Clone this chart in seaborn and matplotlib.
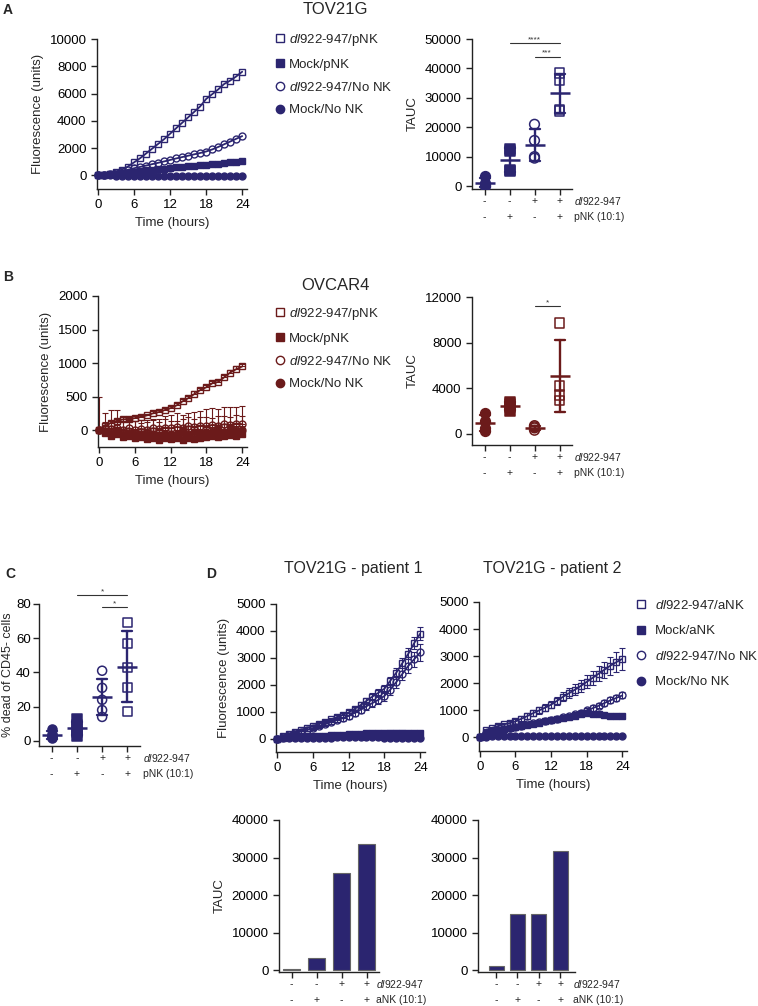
import matplotlib
matplotlib.use('Agg')
import matplotlib.pyplot as plt
import matplotlib.transforms as mtransforms
from matplotlib.lines import Line2D
import pandas as pd
import seaborn as sns

sns.set_style('ticks')
plt.rcParams['font.family'] = ['Liberation Sans', 'DejaVu Sans']
plt.rcParams['mathtext.fontset'] = 'custom'
plt.rcParams['mathtext.it'] = 'Liberation Sans:italic'
plt.rcParams['mathtext.rm'] = 'Liberation Sans'
plt.rcParams['axes.linewidth'] = 1.0
plt.rcParams['axes.edgecolor'] = '#222222'

NAVY = '#2b2570'
DRED = '#6b1a1a'
W, H = 758, 1006

hours = list(range(25))

# ---- panel A: TOV21G kinetics (dl/pNK, Mock/pNK, dl/No NK, Mock/No NK)
a_dl_pnk = [0, 40, 120, 250, 420, 650, 950, 1250, 1600, 1950, 2300, 2650, 3050,
            3450, 3850, 4250, 4650, 5050, 5600, 5950, 6300, 6700, 6950, 7250, 7600]
a_mock_pnk = [0, 30, 70, 110, 160, 210, 270, 320, 370, 410, 450, 500, 540,
              580, 620, 660, 700, 750, 790, 830, 870, 920, 960, 990, 1020]
a_dl_nonk = [0, 40, 110, 200, 300, 410, 520, 620, 720, 820, 920, 1020, 1130,
             1240, 1340, 1440, 1540, 1640, 1750, 1900, 2080, 2280, 2480, 2680, 2880]
a_mock_nonk = [0, 0, 0, -10, -10, -20, -20, -30, -30, -40, -40, -50, -50,
               -50, -60, -60, -60, -70, -70, -70, -80, -80, -80, -80, -80]

# ---- panel A: TAUC (Mock/No NK, Mock/pNK, dl/No NK, dl/pNK)
a_tauc_mock_nonk = [3300, 900, 300, 100]
a_tauc_mock_pnk = [12500, 12000, 5500, 5000]
a_tauc_dl_nonk = [21000, 15500, 10000, 9500]
a_tauc_dl_pnk = [38500, 36000, 26000, 25500]
a_sig = [(1, 3, 48500, '****'), (2, 3, 44000, '***')]

# ---- panel B: OVCAR4 kinetics
b_dl_pnk = [0, 60, 110, 140, 160, 170, 180, 200, 220, 250, 270, 300, 330,
            370, 430, 480, 540, 600, 640, 700, 720, 790, 860, 910, 950]
b_mock_pnk = [0, -40, -80, -60, -100, -90, -120, -100, -130, -110, -140, -120, -130,
              -110, -140, -120, -130, -110, -100, -90, -100, -80, -70, -80, -60]
b_dl_nonk = [0, 30, 20, 40, 10, 30, 0, 20, 10, 30, 20, 40, 30,
             50, 40, 60, 50, 70, 60, 80, 70, 90, 80, 100, 90]
b_mock_nonk = [0, -20, -40, -30, -50, -40, -60, -50, -60, -50, -70, -60, -50,
               -60, -40, -50, -30, -40, -20, -30, -10, -20, 0, -10, 0]
b_err_dl_pnk = [0, 20, 25, 30, 30, 25, 30, 30, 25, 30, 30, 35, 30,
                35, 30, 35, 40, 35, 40, 40, 35, 40, 40, 45, 40]
b_err_mock_pnk = [490, 300, 380, 360, 260, 240, 250, 250, 280, 270, 300, 330, 350,
                  360, 370, 380, 400, 400, 410, 420, 410, 420, 420, 430, 420]
b_err_dl_nonk = [0, 90, 110, 80, 120, 100, 130, 90, 110, 120, 100, 130, 110,
                 90, 120, 140, 110, 120, 130, 100, 140, 120, 110, 130, 120]
b_err_mock_nonk = [0, 60, 70, 80, 60, 70, 80, 70, 60, 80, 70, 60, 80,
                   70, 60, 70, 80, 60, 70, 80, 60, 70, 60, 70, 60]

# ---- panel B: TAUC
b_tauc_mock_nonk = [1800, 1100, 500, 200]
b_tauc_mock_pnk = [2800, 2600, 2300, 2000]
b_tauc_dl_nonk = [700, 600, 500, 300]
b_tauc_dl_pnk = [9700, 4200, 3400, 2900]
b_sig = [(2, 3, 11200, '*')]

# ---- panel C: % dead of CD45- cells
c_mock_nonk = [7, 4, 3, 2, 1.5]
c_mock_pnk = [13, 9, 7, 5, 3]
c_dl_nonk = [41, 31, 24, 18, 14]
c_dl_pnk = [69, 57, 43, 31, 17]
c_sig = [(1, 3, 85, '*'), (2, 3, 78, '*')]

# ---- panel D: patient 1 / patient 2 kinetics (dl/aNK, Mock/aNK, dl/No NK, Mock/No NK)
d1_dl_ank = [0, 80, 160, 250, 320, 390, 460, 540, 620, 710, 790, 880, 970,
             1100, 1240, 1400, 1560, 1700, 1850, 2150, 2450, 2800, 3150, 3550, 3900]
d1_mock_ank = [0, 20, 40, 60, 70, 80, 90, 100, 110, 120, 140, 150, 160,
               170, 180, 190, 200, 210, 210, 220, 220, 220, 210, 210, 200]
d1_dl_nonk = [0, 60, 130, 200, 260, 320, 390, 460, 530, 610, 690, 760, 840,
              950, 1070, 1200, 1320, 1440, 1580, 1820, 2100, 2400, 2700, 2950, 3200]
d1_mock_nonk = [0, 10, 10, 20, 20, 20, 30, 30, 30, 30, 40, 40, 40,
                40, 40, 40, 40, 40, 30, 30, 30, 30, 20, 20, 20]
d1_err_dl_ank = [0, 20, 30, 40, 40, 50, 50, 60, 60, 70, 70, 80, 80,
                 90, 100, 110, 120, 130, 140, 150, 160, 180, 200, 220, 250]
d1_err_dl_nonk = [0, 20, 30, 40, 50, 50, 60, 60, 70, 80, 90, 100, 110,
                  120, 130, 140, 150, 160, 180, 200, 220, 240, 260, 280, 300]
d1_err_mock_ank = [0, 30, 40, 50, 50, 60, 60, 60, 70, 70, 70, 70, 80,
                   80, 80, 80, 80, 80, 80, 80, 80, 80, 80, 80, 80]

d2_dl_ank = [0, 280, 350, 420, 480, 530, 590, 690, 790, 900, 1000, 1100, 1210,
             1350, 1500, 1630, 1760, 1900, 2050, 2200, 2350, 2500, 2650, 2780, 2900]
d2_mock_ank = [0, 170, 220, 270, 310, 350, 390, 430, 470, 510, 550, 590, 630,
               670, 710, 760, 810, 860, 900, 880, 850, 830, 810, 800, 800]
d2_dl_nonk = [0, 180, 230, 280, 320, 360, 400, 440, 480, 520, 560, 600, 640,
              690, 740, 790, 850, 920, 1000, 1080, 1170, 1270, 1370, 1460, 1550]
d2_mock_nonk = [0, 30, 40, 50, 50, 50, 60, 60, 60, 60, 60, 60, 60,
                60, 60, 60, 60, 60, 60, 60, 60, 60, 60, 60, 60]
d2_err_dl_ank = [0, 40, 50, 60, 60, 70, 80, 90, 100, 110, 120, 130, 140,
                 150, 160, 180, 200, 220, 240, 260, 280, 300, 330, 360, 400]
d2_err_dl_nonk = [0, 30, 40, 40, 50, 50, 50, 60, 60, 60, 70, 70, 70,
                  80, 80, 80, 90, 90, 90, 100, 100, 100, 110, 110, 110]
d2_err_mock_ank = [0, 30, 30, 40, 40, 40, 40, 50, 50, 50, 50, 50, 50,
                   50, 50, 60, 60, 60, 60, 60, 60, 60, 60, 60, 60]

# ---- panel D: TAUC bars
d1_tauc = [400, 3200, 26000, 33700]
d2_tauc = [1100, 14900, 14900, 31800]

groups = ['Mock/No NK', 'Mock/NK', 'dl/No NK', 'dl/NK']
virus_signs = ['-', '-', '+', '+']
nk_signs = ['-', '+', '-', '+']

DL = r'$\it{dl}$922-947'
legend_pnk = [DL + '/pNK', 'Mock/pNK', DL + '/No NK', 'Mock/No NK']
legend_ank = [DL + '/aNK', 'Mock/aNK', DL + '/No NK', 'Mock/No NK']

# marker style for (dl/NK, Mock/NK, dl/No NK, Mock/No NK)
CURVE_STYLE = [('s', False), ('s', True), ('o', False), ('o', True)]
# marker style for dot plot groups in `groups` order
DOT_STYLE = [('o', True), ('s', True), ('o', False), ('s', False)]


def box(l, t, r, b):
    return [l / W, 1 - b / H, (r - l) / W, (b - t) / H]


def style_axis(ax):
    sns.despine(ax=ax)
    ax.tick_params(direction='out', length=4.5, width=1, labelsize=9.5,
                   color='#222222', labelcolor='black', pad=3)


def kinetics(ax, curves, errs, color, ylim, yticks, ylabel, both=False):
    for vals, err, (mk, filled) in reversed(list(zip(curves, errs, CURVE_STYLE))):
        if err is not None:
            low = err if both else [0] * len(err)
            ax.errorbar(hours, vals, yerr=[low, err], fmt='none', ecolor=color,
                        elinewidth=0.8, capsize=2.2, capthick=0.8, zorder=2)
        df = pd.DataFrame({'t': hours, 'v': vals})
        sns.lineplot(data=df, x='t', y='v', ax=ax, color=color, linewidth=1.3,
                     marker=mk, markersize=5,
                     markerfacecolor=color if filled else 'none',
                     markeredgecolor=color, markeredgewidth=1.0, clip_on=False, zorder=3)
    ax.set_xlim(-0.15, 24.8)
    ax.set_xticks([0, 6, 12, 18, 24])
    ax.set_ylim(*ylim)
    ax.set_yticks(yticks)
    ax.set_xlabel('Time (hours)', fontsize=9.5)
    ax.set_ylabel(ylabel, fontsize=9.5)
    style_axis(ax)


def sign_table(ax, label2, x_label=3.6):
    trans = mtransforms.blended_transform_factory(ax.transData, ax.transAxes)
    for dy, signs, label in [(8.8, virus_signs, DL), (20.5, nk_signs, label2)]:
        t = mtransforms.offset_copy(trans, fig=ax.figure, y=-dy, units='points')
        for i, s in enumerate(signs):
            ax.text(i, 0, s, transform=t, ha='center', va='center', fontsize=7.5)
        ax.text(x_label, 0, label, transform=t, ha='left', va='center', fontsize=7.5)


def sig_bars(ax, comps):
    for g1, g2, y, stars in comps:
        ax.plot([g1, g2], [y, y], color='#333333', lw=0.8, clip_on=False)
        ax.text((g1 + g2) / 2, y, stars, ha='center', va='bottom', fontsize=6,
                color='#333333')


def dotplot(ax, data, color, ylim, yticks, ylabel, sig, size=7, label2='pNK (10:1)'):
    df = pd.concat([pd.DataFrame({'group': g, 'value': v}) for g, v in zip(groups, data)],
                   ignore_index=True)
    for g, (mk, filled) in zip(groups, DOT_STYLE):
        kw = {} if filled else {'facecolor': 'none'}
        sns.stripplot(data=df[df.group == g], x='group', y='value', order=groups, ax=ax,
                      jitter=False, marker=mk, size=size, color=color, edgecolor=color,
                      linewidth=1.1, zorder=3, **kw)
    sns.pointplot(data=df, x='group', y='value', order=groups, ax=ax, errorbar='sd',
                  color=color, markers='_', markersize=15, markeredgewidth=1.8,
                  linestyle='none', capsize=0.4, err_kws={'linewidth': 1.7}, zorder=4)
    ax.set_xlim(-0.5, 3.5)
    ax.set_xticks(range(4))
    ax.set_xticklabels([])
    ax.set_xlabel('')
    ax.set_ylim(*ylim)
    ax.set_yticks(yticks)
    ax.set_ylabel(ylabel, fontsize=9.5)
    style_axis(ax)
    sig_bars(ax, sig)
    sign_table(ax, label2)


def barpanel(ax, vals, width, xlim, ylabel):
    df = pd.DataFrame({'group': groups, 'value': vals})
    sns.barplot(data=df, x='group', y='value', order=groups, ax=ax, color=NAVY,
                saturation=1, width=width, edgecolor='#666666', linewidth=0.8)
    ax.set_xlim(*xlim)
    ax.set_xticks(range(4))
    ax.set_xticklabels([])
    ax.set_xlabel('')
    ax.set_ylim(-500, 40000)
    ax.set_yticks([0, 10000, 20000, 30000, 40000])
    ax.set_ylabel(ylabel, fontsize=9.5)
    style_axis(ax)
    sign_table(ax, 'aNK (10:1)', x_label=xlim[1] - 0.1)


def legend(fig, labels, color, x, y, pad, spacing):
    handles = [Line2D([], [], ls='none', marker=mk, ms=6, mew=1.0, mec=color,
                      mfc=color if filled else 'none') for mk, filled in CURVE_STYLE]
    fig.legend(handles, labels, loc='upper left', bbox_to_anchor=(x / W, 1 - y / H),
               frameon=False, fontsize=9.5, handlelength=0.8, handletextpad=pad,
               labelspacing=spacing, borderpad=0, borderaxespad=0)


fig = plt.figure(figsize=(W / 100, H / 100), dpi=100)

# A
ax = fig.add_axes(box(97, 39, 247, 189))
kinetics(ax, [a_dl_pnk, a_mock_pnk, a_dl_nonk, a_mock_nonk], [None] * 4, NAVY,
         (-1000, 10000), range(0, 10001, 2000), 'Fluorescence (units)')
ax = fig.add_axes(box(472, 39, 572, 189))
dotplot(ax, [a_tauc_mock_nonk, a_tauc_mock_pnk, a_tauc_dl_nonk, a_tauc_dl_pnk], NAVY,
        (-1000, 50000), range(0, 50001, 10000), 'TAUC', a_sig)
legend(fig, legend_pnk, NAVY, 275, 32, 0.25, 0.78)

# B
ax = fig.add_axes(box(98, 296, 247, 447))
kinetics(ax, [b_dl_pnk, b_mock_pnk, b_dl_nonk, b_mock_nonk],
         [b_err_dl_pnk, b_err_mock_pnk, b_err_dl_nonk, b_err_mock_nonk], DRED,
         (-250, 2000), range(0, 2001, 500), 'Fluorescence (units)')
ax = fig.add_axes(box(472, 297, 572, 445))
dotplot(ax, [b_tauc_mock_nonk, b_tauc_mock_pnk, b_tauc_dl_nonk, b_tauc_dl_pnk], DRED,
        (-1000, 12000), [0, 4000, 8000, 12000], 'TAUC', b_sig)
legend(fig, legend_pnk, DRED, 275, 306, 0.25, 0.78)

# C
ax = fig.add_axes(box(39, 604, 140, 746))
dotplot(ax, [c_mock_nonk, c_mock_pnk, c_dl_nonk, c_dl_pnk], NAVY,
        (-3, 80), range(0, 81, 20), '% dead of CD45- cells', c_sig, size=6.5)
ax.tick_params(axis='y', length=4, pad=2)
ax.set_ylabel('% dead of CD45- cells', fontsize=9)
ax.yaxis.set_label_coords(-0.25, 0.5)

# D
ax = fig.add_axes(box(276, 604, 425, 752))
kinetics(ax, [d1_dl_ank, d1_mock_ank, d1_dl_nonk, d1_mock_nonk],
         [d1_err_dl_ank, d1_err_mock_ank, d1_err_dl_nonk, None], NAVY,
         (-500, 5000), range(0, 5001, 1000), 'Fluorescence (units)', both=True)
ax = fig.add_axes(box(479, 602, 627, 751))
kinetics(ax, [d2_dl_ank, d2_mock_ank, d2_dl_nonk, d2_mock_nonk],
         [d2_err_dl_ank, d2_err_mock_ank, d2_err_dl_nonk, None], NAVY,
         (-500, 5000), range(0, 5001, 1000), '', both=True)
legend(fig, legend_ank, NAVY, 636, 599, 0.65, 0.98)

ax = fig.add_axes(box(279, 820, 379, 972))
barpanel(ax, d1_tauc, 0.68, (-0.5, 3.5), 'TAUC')
ax = fig.add_axes(box(478, 820, 575, 972))
barpanel(ax, d2_tauc, 0.7, (-0.85, 3.7), '')

# panel letters and titles
for letter, x, y in [('A', 3, 10), ('B', 3, 277), ('C', 5, 574), ('D', 206, 574)]:
    fig.text(x / W, 1 - y / H, letter, fontsize=10, fontweight='bold', va='center')
for title, x, y, fs in [('TOV21G', 335, 10, 12), ('OVCAR4', 335, 286, 12),
                        ('TOV21G - patient 1', 353, 568, 11.5),
                        ('TOV21G - patient 2', 552, 568, 11.5)]:
    fig.text(x / W, 1 - y / H, title, fontsize=fs, ha='center', va='center')

fig.savefig('out.png', dpi=100)
